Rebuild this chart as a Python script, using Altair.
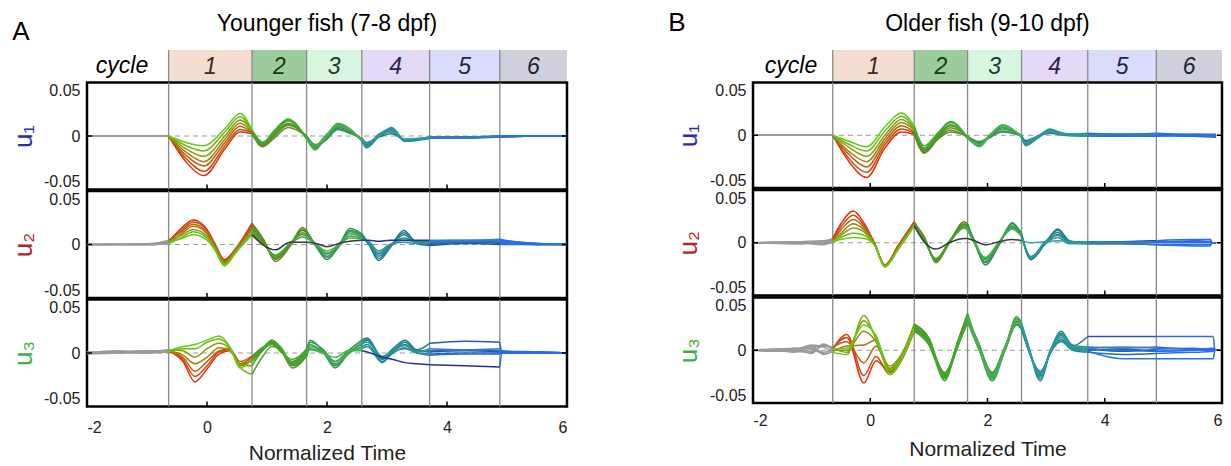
import altair as alt
import pandas as pd

FONT = "Liberation Sans"

# ---------------- shared layout values ----------------
CYCLE_BOUNDS = [-0.64, 0.75, 1.66, 2.58, 3.71, 4.88, 6.0]
CYCLE_LABELS = ["1", "2", "3", "4", "5", "6"]
CYCLE_FILLS = ["#f3ddd0", "#9ccc9c", "#d8f6df", "#e4d9f6", "#d9ddf9", "#cfd0dc"]
CYCLE_TEXT_COLORS = ["#3b2a22", "#173a17", "#1d3b27", "#2e2150", "#1f2452", "#23232f"]
X_TICKS = [-2, 0, 2, 4, 6]
INNER_TICKS = [0, 2, 4]
Y_TICKS = [-0.05, 0, 0.05]
X_DOMAIN = [-2, 6]
Y_DOMAIN = [-0.05, 0.05]

TITLE_A = "Younger fish (7-8 dpf)"
TITLE_B = "Older fish (9-10 dpf)"
X_TITLE = "Normalized Time"
U_TITLES = ["u\u2081", "u\u2082", "u\u2083"]
U_COLORS = ["#2b2bb0", "#b32424", "#3cb043"]

# segment colours (pre, cycle1..cycle6) for lowest / highest ranked trace
SEG_LO = ["#9a9a9a", "#e2300e", "#6b8322", "#2f8c58", "#1f7887", "#2450b4", "#2a6ee4"]
SEG_HI = ["#9a9a9a", "#5ed014", "#39ae30", "#4bb24b", "#2d9c9c", "#2f82c8", "#2a6ee4"]

# ---------------- Panel A (younger) ----------------
A_U1_T = [-2, -0.64, -0.35, -0.05, 0.3, 0.55, 0.75, 0.93, 1.12, 1.35, 1.66, 1.8, 2.0,
          2.18, 2.4, 2.58, 2.66, 2.87, 3.08, 3.3, 3.71, 4.3, 4.88, 5.5, 6.0]
A_U1 = [
    [0, 0, 0, 0, 0, 0, 0],
    [0, 0, 0, 0, 0, 0, 0],
    [-0.024, -0.021, -0.018, -0.015, -0.012, -0.009, -0.006],
    [-0.037, -0.033, -0.028, -0.024, -0.019, -0.014, -0.009],
    [-0.012, -0.009, -0.006, -0.003, 0.000, 0.004, 0.007],
    [0.004, 0.006, 0.009, 0.012, 0.015, 0.018, 0.021],
    [0.002, 0.003, 0.003, 0.004, 0.005, 0.005, 0.006],
    [-0.010, -0.009, -0.008, -0.008, -0.007, -0.006, -0.006],
    [-0.002, 0.000, 0.001, 0.002, 0.003, 0.004, 0.005],
    [0.008, 0.010, 0.011, 0.012, 0.014, 0.015, 0.016],
    [0.000, 0.000, -0.001, -0.001, -0.002, -0.002, -0.003],
    [-0.008, -0.009, -0.010, -0.011, -0.012, -0.013, -0.009],
    [-0.002, -0.003, -0.002, -0.001, 0.000, 0.001, 0.002],
    [0.006, 0.007, 0.008, 0.009, 0.011, 0.012, 0.010],
    [0.002, 0.003, 0.004, 0.004, 0.005, 0.006, 0.005],
    [-0.002, -0.003, -0.003, -0.004, -0.004, -0.005, -0.003],
    [-0.006, -0.007, -0.008, -0.009, -0.010, -0.011, -0.007],
    [-0.001, 0.000, 0.001, 0.002, 0.001, 0.000, 0.001],
    [0.002, 0.004, 0.005, 0.006, 0.007, 0.008, 0.004],
    [-0.003, -0.004, -0.004, -0.005, -0.005, -0.004, -0.003],
    [-0.002, -0.002, -0.001, -0.002, -0.001, -0.002, -0.001],
    [-0.002, -0.001, -0.001, -0.002, -0.001, -0.001, -0.002],
    [-0.001, 0.000, -0.001, 0.000, 0.000, -0.001, 0.000],
    [0, 0, 0, 0, 0, 0, 0],
    [0, 0, 0, 0, 0, 0, 0],
]

A_U2_T = [-2, -0.9, -0.64, -0.45, -0.23, 0.0, 0.13, 0.29, 0.5, 0.75, 0.95, 1.14, 1.38,
          1.59, 1.66, 1.82, 2.0, 2.2, 2.38, 2.58, 2.7, 2.86, 3.05, 3.28, 3.5, 3.71,
          4.3, 4.88, 5.5, 6.0]
A_U2 = [
    [0, 0, 0, 0, 0, 0, 0],
    [0.000, 0.000, 0.001, 0.000, 0.001, 0.000, 0.000],
    [0.003, 0.002, 0.004, 0.001, 0.003, 0.002, 0.001],
    [0.014, 0.012, 0.011, 0.009, 0.008, 0.006, 0.005],
    [0.023, 0.021, 0.019, 0.017, 0.014, 0.012, 0.009],
    [0.014, 0.013, 0.011, 0.010, 0.008, 0.006, 0.004],
    [0.001, 0.000, -0.001, -0.002, -0.003, -0.004, -0.005],
    [-0.014, -0.015, -0.016, -0.017, -0.018, -0.019, -0.020],
    [-0.002, -0.003, -0.004, -0.003, -0.005, -0.006, -0.006],
    [0.020, 0.018, 0.016, 0.014, 0.012, 0.010, 0.009],
    [0.004, 0.003, 0.002, 0.001, 0.000, 0.000, -0.001],
    [-0.016, -0.014, -0.013, -0.012, -0.011, -0.010, -0.005],
    [-0.002, -0.001, 0.000, 0.000, 0.001, 0.000, 0.002],
    [0.016, 0.014, 0.013, 0.011, 0.009, 0.007, 0.002],
    [0.013, 0.012, 0.011, 0.009, 0.008, 0.006, 0.002],
    [-0.002, -0.001, -0.001, 0.000, 0.000, 0.000, 0.001],
    [-0.014, -0.012, -0.011, -0.009, -0.008, -0.006, -0.002],
    [-0.001, -0.002, 0.000, 0.000, -0.001, 0.000, 0.001],
    [0.015, 0.013, 0.012, 0.010, 0.008, 0.006, 0.003],
    [0.010, 0.009, 0.008, 0.007, 0.006, 0.005, 0.004],
    [0.000, 0.000, 0.001, 0.000, 0.002, 0.003, 0.004],
    [-0.015, -0.013, -0.011, -0.009, -0.008, -0.006, 0.003],
    [-0.003, -0.002, -0.002, -0.001, 0.000, 0.000, 0.004],
    [0.013, 0.011, 0.009, 0.006, 0.004, 0.002, 0.004],
    [0.001, 0.002, 0.001, 0.002, 0.003, 0.001, 0.004],
    [-0.001, 0.000, 0.002, 0.001, 0.003, 0.002, 0.004],
    [0.001, 0.002, 0.003, 0.002, 0.004, 0.003, 0.004],
    [0.000, 0.001, 0.002, 0.003, 0.003, 0.004, 0.005],
    [0.000, 0.000, 0.001, 0.001, 0.000, 0.001, 0.000],
    [0, 0, 0, 0, 0, 0, 0],
]

A_U3_T = [-2, -1.5, -1.0, -0.64, -0.4, -0.2, 0.0, 0.2, 0.38, 0.55, 0.75, 0.92, 1.08,
          1.25, 1.42, 1.66, 1.72, 1.92, 2.14, 2.35, 2.58, 2.67, 2.92, 3.1, 3.3, 3.5,
          3.71, 4.3, 4.88, 4.92, 5.5, 6.0]
A_U3 = [
    [0.000, 0.001, 0.000, -0.001, 0.000, 0.001, 0.000],
    [0.001, 0.000, 0.001, 0.000, 0.002, 0.000, 0.001],
    [0.002, 0.001, 0.000, 0.002, 0.001, 0.002, 0.000],
    [0.002, 0.003, 0.001, 0.002, 0.003, 0.001, 0.002],
    [-0.008, -0.006, -0.004, -0.002, 0.002, 0.004, 0.006],
    [-0.027, -0.022, -0.017, -0.010, -0.004, 0.004, 0.008],
    [-0.015, -0.012, -0.008, -0.004, 0.004, 0.010, 0.012],
    [-0.001, 0.001, 0.002, 0.005, 0.009, 0.013, 0.016],
    [0.002, 0.003, 0.004, 0.003, 0.004, 0.005, 0.006],
    [-0.012, -0.010, -0.008, -0.010, -0.011, -0.013, -0.014],
    [-0.006, -0.004, -0.003, -0.008, -0.012, -0.020, -0.006],
    [0.002, 0.004, 0.005, 0.003, 0.002, -0.004, 0.004],
    [0.012, 0.010, 0.009, 0.011, 0.008, 0.006, 0.012],
    [0.003, 0.002, 0.001, 0.002, 0.000, 0.002, 0.004],
    [-0.012, -0.010, -0.014, -0.008, -0.006, -0.009, -0.011],
    [-0.002, 0.002, -0.003, 0.004, 0.003, 0.001, 0.000],
    [0.006, 0.010, 0.004, 0.012, 0.008, 0.006, 0.003],
    [0.002, 0.004, 0.001, 0.003, 0.001, 0.002, 0.000],
    [-0.012, -0.008, -0.014, -0.010, -0.008, -0.011, -0.004],
    [0.000, 0.002, -0.001, 0.000, 0.001, 0.000, 0.002],
    [0.008, 0.012, 0.006, 0.010, 0.004, 0.009, 0.002],
    [0.012, 0.014, 0.008, 0.013, 0.006, 0.010, 0.001],
    [-0.006, -0.004, -0.008, -0.005, -0.009, -0.003, -0.004],
    [0.002, 0.004, 0.000, 0.003, 0.001, 0.002, -0.006],
    [0.010, 0.012, 0.005, 0.008, 0.004, 0.007, -0.009],
    [0.002, 0.003, 0.000, 0.002, 0.000, 0.001, -0.010],
    [0.001, 0.009, -0.001, 0.002, -0.002, 0.004, -0.011],
    [0.002, 0.011, 0.000, 0.003, -0.001, 0.003, -0.012],
    [0.001, 0.010, 0.000, 0.002, -0.001, 0.004, -0.013],
    [0.001, 0.001, 0.000, 0.001, 0.000, 0.002, 0.000],
    [0.000, 0.001, 0.000, 0.001, 0.000, 0.001, 0.000],
    [0, 0, 0, 0, 0, 0, 0],
]

# ---------------- Panel B (older) ----------------
B_U1_T = [-2, -0.64, -0.35, -0.06, 0.25, 0.53, 0.75, 0.92, 1.15, 1.37, 1.66, 1.86, 2.05,
          2.25, 2.58, 2.65, 2.85, 3.07, 3.3, 3.71, 4.3, 4.88, 5.5, 5.9]
B_U1 = [
    [0, 0, 0, 0, 0, 0, 0],
    [0, 0, 0, 0, 0, 0, 0],
    [-0.026, -0.023, -0.019, -0.016, -0.012, -0.009, -0.006],
    [-0.040, -0.035, -0.030, -0.025, -0.020, -0.015, -0.011],
    [-0.012, -0.009, -0.006, -0.003, 0.000, 0.004, 0.008],
    [0.003, 0.006, 0.009, 0.012, 0.015, 0.018, 0.021],
    [0.001, 0.002, 0.003, 0.005, 0.006, 0.007, 0.009],
    [-0.017, -0.016, -0.015, -0.014, -0.013, -0.012, -0.010],
    [-0.004, -0.003, -0.002, -0.001, 0.000, 0.001, 0.002],
    [0.003, 0.005, 0.007, 0.009, 0.010, 0.012, 0.013],
    [-0.001, -0.002, -0.001, -0.002, -0.003, -0.002, -0.003],
    [-0.006, -0.007, -0.008, -0.009, -0.010, -0.011, -0.009],
    [-0.001, -0.002, -0.001, 0.000, 0.001, 0.000, 0.001],
    [0.003, 0.004, 0.006, 0.007, 0.008, 0.010, 0.009],
    [0.000, -0.001, 0.000, -0.001, 0.000, -0.002, -0.001],
    [-0.005, -0.006, -0.007, -0.008, -0.009, -0.010, -0.007],
    [-0.001, -0.002, -0.002, -0.001, -0.002, -0.003, -0.001],
    [0.002, 0.003, 0.004, 0.005, 0.006, 0.004, 0.003],
    [0.000, 0.001, 0.001, 0.002, 0.001, 0.000, 0.001],
    [-0.001, 0.000, 0.001, 0.000, 0.002, -0.001, 0.000],
    [0.000, -0.001, 0.001, 0.000, 0.001, -0.001, 0.001],
    [-0.001, 0.000, 0.001, -0.001, 0.002, 0.000, 0.001],
    [0.000, -0.001, 0.000, 0.001, 0.001, -0.001, 0.000],
    [0.000, 0.000, -0.001, 0.000, 0.001, -0.002, 0.000],
]

B_U2_T = [-2, -1.2, -0.8, -0.64, -0.5, -0.29, -0.1, 0.07, 0.25, 0.48, 0.75, 0.92, 1.12,
          1.35, 1.6, 1.66, 1.78, 1.96, 2.2, 2.42, 2.58, 2.74, 2.97, 3.2, 3.4, 3.71, 4.3,
          4.88, 5.5, 5.8, 5.83, 5.9]
B_U2 = [
    [0, 0, 0, 0, 0, 0, 0],
    [0.001, -0.001, 0.000, 0.001, -0.001, 0.000, 0.001],
    [0.001, 0.002, -0.002, 0.001, 0.000, -0.001, 0.002],
    [0.004, 0.003, 0.002, 0.001, 0.002, 0.000, 0.001],
    [0.018, 0.015, 0.012, 0.009, 0.007, 0.005, 0.003],
    [0.030, 0.026, 0.022, 0.018, 0.014, 0.009, 0.005],
    [0.018, 0.016, 0.014, 0.012, 0.010, 0.007, 0.004],
    [0.000, 0.000, -0.001, 0.000, -0.001, -0.002, -0.002],
    [-0.021, -0.022, -0.021, -0.022, -0.023, -0.022, -0.023],
    [-0.002, -0.003, -0.004, -0.004, -0.005, -0.006, -0.006],
    [0.020, 0.019, 0.018, 0.017, 0.017, 0.016, 0.016],
    [0.004, 0.005, 0.006, 0.004, 0.003, 0.002, 0.001],
    [-0.017, -0.018, -0.019, -0.016, -0.016, -0.015, -0.006],
    [0.000, 0.001, 0.000, 0.002, 0.001, 0.000, 0.000],
    [0.020, 0.018, 0.017, 0.016, 0.015, 0.014, 0.004],
    [0.018, 0.017, 0.015, 0.015, 0.014, 0.012, 0.004],
    [0.001, 0.000, 0.002, 0.000, 0.001, -0.001, 0.002],
    [-0.021, -0.019, -0.018, -0.016, -0.015, -0.014, -0.002],
    [-0.002, -0.001, 0.000, 0.001, 0.000, 0.001, 0.001],
    [0.019, 0.018, 0.016, 0.015, 0.014, 0.013, 0.003],
    [0.008, 0.009, 0.007, 0.006, 0.008, 0.006, 0.002],
    [-0.016, -0.015, -0.014, -0.013, -0.015, -0.014, 0.000],
    [-0.002, -0.001, 0.000, -0.002, 0.000, -0.001, 0.001],
    [0.013, 0.012, 0.010, 0.008, 0.007, 0.005, 0.002],
    [0.002, 0.001, 0.000, 0.001, 0.000, -0.001, 0.001],
    [0.000, 0.001, -0.001, 0.000, 0.001, -0.001, 0.000],
    [0.001, 0.000, -0.001, 0.001, 0.000, -0.001, 0.000],
    [0.002, 0.001, -0.002, 0.001, 0.000, -0.002, 0.001],
    [0.003, 0.001, -0.003, 0.001, 0.000, -0.002, 0.002],
    [0.003, 0.001, -0.003, 0.001, 0.000, -0.002, 0.003],
    [0, 0, 0, 0, 0, 0, 0],
    [0, 0, 0, 0, 0, 0, 0],
]

B_U3_T = [-2, -1.6, -1.3, -1.0, -0.8, -0.64, -0.4, -0.11, 0.1, 0.33, 0.55, 0.75, 1.0,
          1.27, 1.47, 1.66, 1.85, 2.08, 2.3, 2.5, 2.58, 2.7, 2.9, 3.08, 3.26, 3.45,
          3.71, 4.3, 4.88, 5.5, 5.85, 5.88, 5.95]
B_U3 = [
    [0, 0, 0, 0, 0, 0, 0, 0],
    [0.001, -0.001, 0.001, 0.000, -0.001, 0.001, -0.001, 0.001],
    [0.000, 0.002, 0.001, -0.002, 0.001, 0.002, 0.000, -0.001],
    [0.003, 0.002, -0.001, 0.004, -0.003, 0.001, 0.005, -0.002],
    [0.004, -0.002, 0.004, -0.004, 0.005, -0.003, 0.003, 0.006],
    [0.002, 0.001, 0.003, -0.001, 0.000, 0.002, -0.002, 0.001],
    [0.012, 0.015, 0.008, 0.004, 0.000, -0.002, -0.004, 0.002],
    [-0.031, -0.024, -0.012, 0.005, 0.018, 0.028, 0.033, 0.024],
    [-0.010, -0.006, 0.004, 0.010, 0.008, 0.012, 0.010, 0.014],
    [-0.020, -0.023, -0.018, -0.021, -0.017, -0.015, -0.019, -0.023],
    [-0.005, -0.008, -0.004, -0.006, -0.003, -0.002, -0.004, -0.007],
    [0.021, 0.018, 0.023, 0.020, 0.025, 0.024, 0.022, 0.019],
    [0.008, 0.006, 0.010, 0.007, 0.011, 0.012, 0.009, 0.005],
    [-0.021, -0.024, -0.026, -0.022, -0.029, -0.025, -0.023, -0.027],
    [0.002, 0.000, 0.004, 0.001, 0.005, 0.003, 0.002, 0.000],
    [0.026, 0.029, 0.032, 0.028, 0.035, 0.030, 0.027, 0.031],
    [0.004, 0.006, 0.002, 0.005, 0.003, 0.007, 0.001, 0.004],
    [-0.022, -0.025, -0.027, -0.021, -0.029, -0.024, -0.023, -0.026],
    [0.002, 0.000, 0.003, 0.004, 0.001, 0.002, 0.000, 0.003],
    [0.024, 0.027, 0.030, 0.025, 0.032, 0.028, 0.026, 0.029],
    [0.020, 0.022, 0.025, 0.020, 0.026, 0.023, 0.021, 0.024],
    [0.000, 0.002, 0.004, 0.001, 0.003, 0.000, 0.002, 0.001],
    [-0.020, -0.024, -0.027, -0.022, -0.029, -0.021, -0.025, -0.023],
    [-0.002, 0.000, 0.001, -0.001, 0.000, -0.002, 0.001, -0.001],
    [0.010, 0.014, 0.018, 0.008, 0.016, 0.012, 0.009, 0.015],
    [0.002, 0.004, 0.003, 0.000, 0.005, 0.002, 0.001, 0.003],
    [0.000, 0.013, 0.002, -0.002, 0.003, 0.001, -0.001, 0.002],
    [0.001, 0.013, -0.001, -0.004, 0.002, 0.000, -0.008, 0.003],
    [-0.001, 0.013, 0.001, -0.003, 0.003, -0.001, -0.008, 0.002],
    [0.000, 0.013, 0.002, -0.002, 0.001, 0.000, -0.008, 0.001],
    [0.001, 0.013, 0.000, -0.001, 0.002, 0.001, -0.008, 0.000],
    [0, 0, 0, 0, 0, 0, 0, 0],
    [0, 0, 0, 0, 0, 0, 0, 0],
]

DARK = "#3a3a3a"
NAVY = "#24329e"
A_U2_OVR = {(6, 2): DARK, (6, 3): DARK, (6, 4): NAVY}
A_U3_OVR = {(6, 4): NAVY, (6, 5): NAVY}
B_U2_OVR = {(6, 2): DARK, (6, 3): DARK}


def mix(a, b, r):
    ca = [int(a[i:i + 2], 16) for i in (1, 3, 5)]
    cb = [int(b[i:i + 2], 16) for i in (1, 3, 5)]
    return "#%02x%02x%02x" % tuple(round(x + (y - x) * r) for x, y in zip(ca, cb))


def seg_frame(times, rows, overrides):
    n = len(rows[0])
    edges = [-99] + CYCLE_BOUNDS[:-1] + [99]
    recs = []
    for j in range(n):
        r = j / (n - 1)
        for k in range(7):
            lo, hi = edges[k], edges[k + 1]
            pts = [(t, rows[i][j]) for i, t in enumerate(times) if lo - 1e-9 <= t <= hi + 1e-9]
            if len(pts) < 2:
                continue
            col = overrides.get((j, k), mix(SEG_LO[k], SEG_HI[k], r))
            for t, v in pts:
                recs.append({"t": t, "v": v, "seg": f"{j}_{k}", "col": col})
    return pd.DataFrame(recs)


LABEL_EXPR = "datum.value < 0 ? '-' + format(-datum.value, '~g') : format(datum.value, '~g')"


def subplot(times, rows, idx, W, H, bottom, overrides, title_pad, lab_pad, xt_pad):
    df = seg_frame(times, rows, overrides)
    xs = alt.Scale(domain=X_DOMAIN, nice=False, zero=False)
    ys = alt.Scale(domain=Y_DOMAIN, nice=False, zero=False)
    if bottom:
        xaxis = alt.Axis(values=X_TICKS, labelExpr=LABEL_EXPR, ticks=False, domain=False,
                         grid=False, labelFontSize=16, labelPadding=lab_pad, labelColor="#222",
                         title=X_TITLE, titleFontSize=21, titleFontWeight="normal",
                         titleColor="#222", titlePadding=xt_pad)
    else:
        xaxis = None
    yaxis = alt.Axis(values=Y_TICKS, labelExpr=LABEL_EXPR, ticks=False, domain=False,
                     grid=False, labelFlush=True, labelFontSize=16, labelPadding=7,
                     labelColor="#222", title=U_TITLES[idx], titleColor=U_COLORS[idx],
                     titleFontSize=26, titleFontWeight="normal", titlePadding=title_pad)
    X = alt.X("t:Q", scale=xs, axis=xaxis)
    Y = alt.Y("v:Q", scale=ys, axis=yaxis)

    zdf = pd.DataFrame({"v": [0]})
    zero = alt.Chart(zdf).mark_rule(color="#9a9a9a", strokeWidth=1, strokeDash=[5, 4]).encode(y=Y)
    bdf = pd.DataFrame({"t": CYCLE_BOUNDS[:-1]})
    brules = alt.Chart(bdf).mark_rule(color="#8a8a8a", strokeWidth=1.3).encode(x=X)
    lines = alt.Chart(df).mark_line(interpolate="monotone", strokeWidth=1.5, clip=True).encode(
        x=X, y=Y, detail="seg:N", color=alt.Color("col:N", scale=None))
    tdf = pd.DataFrame({"t": INNER_TICKS})
    ticks = alt.Chart(tdf).mark_rule(color="black", strokeWidth=1.5).encode(
        x=X, y=alt.value(H), y2=alt.value(H - 5))
    ytl = alt.Chart(zdf).mark_rule(color="black", strokeWidth=1.5).encode(
        y=Y, x=alt.value(0), x2=alt.value(5))
    ytr = alt.Chart(zdf).mark_rule(color="black", strokeWidth=1.5).encode(
        y=Y, x=alt.value(W - 5), x2=alt.value(W))
    return alt.layer(zero, brules, lines, ticks, ytl, ytr).properties(width=W, height=H)


def header(W, HH, letter, title, letter_dx, letter_dy, title_dy, cycle_dx):
    hdf = pd.DataFrame({"t0": CYCLE_BOUNDS[:-1], "t1": CYCLE_BOUNDS[1:], "lab": CYCLE_LABELS,
                        "fill": CYCLE_FILLS, "tc": CYCLE_TEXT_COLORS})
    hdf["mid"] = (hdf["t0"] + hdf["t1"]) / 2
    xs = alt.Scale(domain=X_DOMAIN, nice=False, zero=False)
    rects = alt.Chart(hdf).mark_rect().encode(
        x=alt.X("t0:Q", scale=xs, axis=None), x2="t1:Q",
        y=alt.value(0), y2=alt.value(HH), fill=alt.Fill("fill:N", scale=None))
    edges = alt.Chart(hdf).mark_rule(color="#8a8a8a", strokeWidth=1.3).encode(
        x=alt.X("t0:Q", scale=xs, axis=None), y=alt.value(0), y2=alt.value(HH))
    digits = alt.Chart(hdf).mark_text(font=FONT, fontSize=23, fontStyle="italic").encode(
        x=alt.X("mid:Q", scale=xs, axis=None), y=alt.value(HH / 2 + 1), text="lab:N",
        color=alt.Color("tc:N", scale=None))
    one = pd.DataFrame({"k": [0]})
    cyc = alt.Chart(one).mark_text(font=FONT, fontSize=23, fontStyle="italic", color="black").encode(
        x=alt.value(cycle_dx), y=alt.value(HH / 2), text=alt.value("cycle"))
    let = alt.Chart(one).mark_text(font=FONT, fontSize=26, color="black").encode(
        x=alt.value(letter_dx), y=alt.value(letter_dy), text=alt.value(letter))
    ttl = alt.Chart(one).mark_text(font=FONT, fontSize=23, color="black").encode(
        x=alt.value(W / 2), y=alt.value(title_dy), text=alt.value(title))
    return alt.layer(rects, edges, digits, cyc, let, ttl).properties(
        width=W, height=HH, view=alt.ViewBackground(stroke="transparent"))


WA, WB = 480, 469
colA = alt.vconcat(
    header(WA, 31, "A", TITLE_A, -66, -18, -26, 35),
    subplot(A_U1_T, A_U1, 0, WA, 107, False, {}, 7, 13, 7),
    subplot(A_U2_T, A_U2, 1, WA, 107, False, A_U2_OVR, 7, 13, 7),
    subplot(A_U3_T, A_U3, 2, WA, 107, True, A_U3_OVR, 7, 13, 7),
    spacing=1.5, bounds="flush",
)
colB = alt.vconcat(
    header(WB, 31, "B", TITLE_B, -76, -27, -26, 38),
    subplot(B_U1_T, B_U1, 0, WB, 105.5, False, {}, 8, 9, 10),
    subplot(B_U2_T, B_U2, 1, WB, 105.5, False, B_U2_OVR, 8, 9, 10),
    subplot(B_U3_T, B_U3, 2, WB, 105.5, True, {}, 8, 9, 10),
    spacing=1.5, bounds="flush",
)

chart = alt.hconcat(colA, colB, spacing=98).properties(
    padding={"left": 9, "top": 8, "right": 0, "bottom": 0}
).configure(background="white").configure_view(
    stroke="black", strokeWidth=2.5
).configure_axis(labelFont=FONT, titleFont=FONT)

chart.save("out.html", embed_options={"renderer": "svg", "actions": False})
